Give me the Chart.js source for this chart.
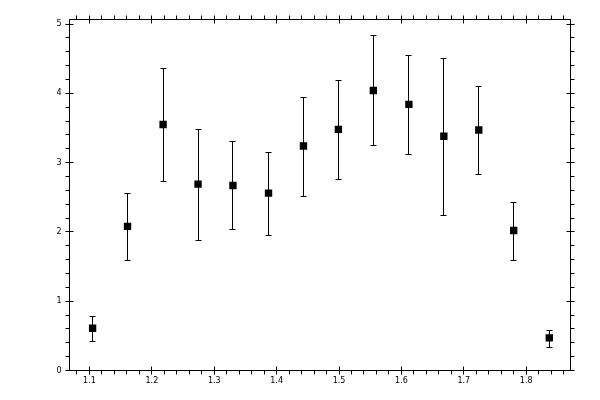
<!DOCTYPE html>
<html>
<head>
<meta charset="utf-8">
<script src="https://cdn.jsdelivr.net/npm/chart.js@4/dist/chart.umd.min.js"></script>
<style>html,body{margin:0;padding:0;background:#fff}</style>
</head>
<body>
<canvas id="myChart" width="600" height="400"></canvas>
<script>
// values
const xValues = [1.105, 1.161, 1.218, 1.274, 1.330, 1.387, 1.443, 1.499, 1.555, 1.612, 1.668, 1.724, 1.780, 1.837];
const yValues = [0.61, 2.08, 3.55, 2.69, 2.67, 2.56, 3.24, 3.48, 4.04, 3.84, 3.38, 3.47, 2.02, 0.47];
const yLow = [0.42, 1.59, 2.74, 1.88, 2.04, 1.95, 2.52, 2.76, 3.26, 3.13, 2.25, 2.83, 1.60, 0.34];
const yHigh = [0.79, 2.56, 4.36, 3.48, 3.31, 3.15, 3.94, 4.19, 4.84, 4.55, 4.51, 4.10, 2.43, 0.59];
const xTicks = [1.1, 1.2, 1.3, 1.4, 1.5, 1.6, 1.7, 1.8];
const yTicks = [0, 1, 2, 3, 4, 5];

function crisp(v) {
    return Math.round(v - 0.5) + 0.5;
}

const errorBars = {
    id: 'errorBars',
    beforeDatasetsDraw(chart) {
        const ctx = chart.ctx;
        const xs = chart.scales.x, ys = chart.scales.y;
        ctx.save();
        ctx.strokeStyle = '#000';
        ctx.lineWidth = 1;
        ctx.beginPath();
        for (let i = 0; i < xValues.length; i++) {
            const px = crisp(xs.getPixelForValue(xValues[i]));
            const lo = Math.round(ys.getPixelForValue(yLow[i])) + 0.5;
            const hi = Math.round(ys.getPixelForValue(yHigh[i])) + 0.5;
            ctx.moveTo(px, lo);
            ctx.lineTo(px, hi);
            ctx.moveTo(px - 3, lo);
            ctx.lineTo(px + 3, lo);
            ctx.moveTo(px - 3, hi);
            ctx.lineTo(px + 3, hi);
        }
        ctx.stroke();
        ctx.restore();
    }
};

const frame = {
    id: 'frame',
    afterDraw(chart) {
        const ctx = chart.ctx;
        const a = chart.chartArea;
        const xs = chart.scales.x, ys = chart.scales.y;
        const l = crisp(a.left), r = crisp(a.right), t = crisp(a.top), b = crisp(a.bottom);
        ctx.save();
        ctx.strokeStyle = '#000';
        ctx.lineWidth = 1;
        ctx.beginPath();
        ctx.rect(l, t, r - l, b - t);
        // x ticks, bottom and top
        for (let k = 0; k <= 40; k++) {
            const v = 1.08 + k * 0.02;
            if (v > xs.max) break;
            const px = crisp(xs.getPixelForValue(v));
            const major = k % 5 === 1;
            ctx.moveTo(px, b - (major ? 4 : 0));
            ctx.lineTo(px, b + 4);
            ctx.moveTo(px, t + (major ? 4 : 0));
            ctx.lineTo(px, t - 4);
        }
        // y ticks, left and right
        for (let k = 0; k <= 25; k++) {
            const v = k * 0.2;
            if (v > ys.max) break;
            const py = crisp(ys.getPixelForValue(v));
            const major = k % 5 === 0;
            ctx.moveTo(l + (major ? 4 : 0), py);
            ctx.lineTo(l - 4, py);
            ctx.moveTo(r - (major ? 4 : 0), py);
            ctx.lineTo(r + 4, py);
        }
        ctx.stroke();
        ctx.restore();
    }
};

const tickFont = { family: 'DejaVu Sans', size: 8 };

new Chart(document.getElementById('myChart').getContext('2d'), {
    type: 'scatter',
    data: {
        datasets: [{
            data: xValues.map((x, i) => ({ x: x, y: yValues[i] })),
            pointStyle: 'rect',
            radius: 5.2,
            backgroundColor: '#000',
            borderColor: '#000',
            borderWidth: 0,
        }]
    },
    options: {
        responsive: false,
        animation: false,
        devicePixelRatio: 1,
        layout: { padding: { top: 19.5, right: 29.5, left: 0, bottom: 0 } },
        scales: {
            x: {
                type: 'linear',
                min: 1.068,
                max: 1.871,
                afterBuildTicks: s => { s.ticks = xTicks.map(v => ({ value: v })); },
                afterFit: s => { s.height = 29.5; },
                ticks: {
                    callback: v => v.toFixed(1),
                    font: tickFont,
                    color: '#000',
                    padding: 6,
                    maxRotation: 0,
                    autoSkip: false,
                },
                grid: { display: false, drawTicks: false },
                border: { display: false },
            },
            y: {
                min: 0,
                max: 5.065,
                afterBuildTicks: s => { s.ticks = yTicks.map(v => ({ value: v })); },
                afterFit: s => { s.width = 69.5; },
                ticks: {
                    callback: v => String(v),
                    font: tickFont,
                    color: '#000',
                    padding: 8,
                    autoSkip: false,
                },
                grid: { display: false, drawTicks: false },
                border: { display: false },
            }
        },
        plugins: {
            legend: { display: false },
            tooltip: { enabled: false },
        }
    },
    plugins: [errorBars, frame]
});
</script>
</body>
</html>
